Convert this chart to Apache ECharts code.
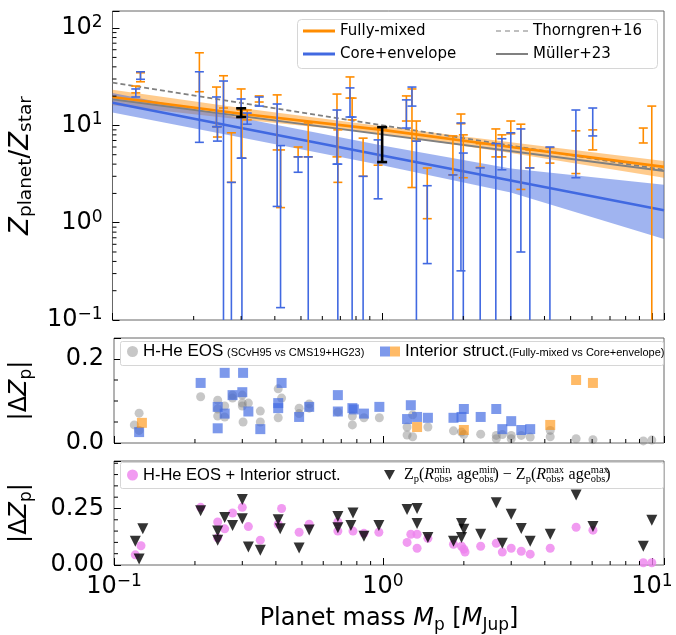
<!DOCTYPE html>
<html>
<head>
<meta charset="utf-8">
<script src="https://cdn.jsdelivr.net/npm/echarts@6/dist/echarts.min.js"></script>
<style>
  html, body { margin: 0; padding: 0; background: #fff; }
  #chart { width: 676px; height: 635px; }
</style>
</head>
<body>
<div id="chart"></div>
<script>
// ---- data ----
const xMin = 0.1, xMax = 11.1

// top panel: Z_planet / Z_star ranges per planet
const planetMass = [0.122, 0.127, 0.21, 0.243, 0.245, 0.258, 0.276, 0.30, 0.302, 0.316, 0.35, 0.408, 0.42, 0.488, 0.532, 0.68, 0.685, 0.76, 0.774, 0.85, 0.966, 1.23, 1.29, 1.34, 1.47, 1.83, 1.96, 2.0, 2.31, 2.64, 2.78, 3.0, 3.27, 3.53, 4.19, 5.23, 6.04, 9.3, 10.0]
const mixedLo = [21.6, 28.1, 22.2, 9.7, 7.6, 15.1, 2.6, 14.4, 4.6, 11.4, 17.4, 5.6, 1.43, 4.75, 4.75, 4.75, 2.6, 19.1, 11.4, 3.0, 3.9, 11.1, 2.3, 6.9, 1.10, 3.1, 10.4, 2.9, 3.7, 4.75, 4.75, 8.2, 2.2, 3.66, 4.1, 3.2, 5.6, 6.6, 0.01]
const mixedHi = [25.4, 34.8, 55.8, 24.8, 9.7, 32.4, 8.4, 23.7, 14.4, 14.4, 20.1, 20.6, 5.6, 6.0, 10.6, 21.0, 9.0, 31.5, 19.1, 7.4, 9.4, 20.1, 23.7, 11.1, 3.65, 7.8, 13.1, 8.0, 6.5, 9.2, 8.0, 11.1, 10.3, 5.6, 5.9, 8.8, 9.0, 9.4, 15.8]
const coreLo = [19.6, 29.8, 6.7, 9.7, 6.9, 0.01, 0.01, 4.6, 0.01, 10.3, 15.8, 1.47, 0.134, 3.3, 0.01, 4.0, 0.01, 12.2, 0.01, 0.01, 1.76, 9.4, 15.8, 0.01, 0.38, 0.01, 0.32, 0.01, 0.01, 0.01, 3.5, 0.01, 0.5, 0.01, 0.01, 2.9, 7.8, null, null]
const coreHi = [23.7, 35.6, 35.6, 19.6, 9.7, 28.6, 2.6, 18.7, 4.6, 13.4, 19.6, 16.6, 6.2, 4.75, 4.75, 14.4, 4.0, 24.3, 12.2, 3.0, 7.1, 18.3, 24.8, 6.9, 2.4, 3.1, 10.6, 5.2, 3.66, 6.5, 7.3, 8.4, 9.2, 3.66, 6.0, 14.4, 15.1, null, null]

// black points
const blackMass = [0.30, 1.0]
const blackLo = [12.2, 4.2]
const blackHi = [15.0, 9.6]

// fitted relations and their bands
const fitMass = [0.1, 0.3, 1, 3, 11.1]
const mixedFit = [19.6, 13.2, 9.0, 6.0, 3.75]
const mixedUp = [23.3, 15.1, 9.8, 6.7, 4.3]
const mixedDn = [16.1, 11.5, 8.2, 5.2, 2.9]
const coreFit = [17.1, 9.4, 4.9, 2.72, 1.34]
const coreUp = [21.5, 11.9, 6.2, 3.6, 2.45]
const coreDn = [13.6, 7.5, 3.9, 2.05, 0.68]
const relMass = [0.1, 11.1]
const thorngren = [27.5, 3.5]
const muller = [18.5, 3.4]

// middle panel: |dZp|
const eosMass = [0.119, 0.124, 0.124, 0.21, 0.243, 0.243, 0.243, 0.258, 0.258, 0.276, 0.276, 0.30, 0.30, 0.30, 0.316, 0.302, 0.35, 0.35, 0.408, 0.42, 0.408, 0.488, 0.488, 0.532, 0.532, 0.68, 0.77, 0.77, 0.85, 0.97, 1.23, 1.23, 1.29, 1.29, 1.47, 1.83, 1.96, 2.0, 2.31, 2.64, 2.64, 2.78, 3.0, 3.0, 3.27, 3.53, 4.19, 4.19, 5.23, 6.04, 9.3, 10.0]
const eosDz = [0.043, 0.071, 0.03, 0.11, 0.102, 0.081, 0.064, 0.062, 0.088, 0.114, 0.107, 0.114, 0.095, 0.088, 0.095, 0.05, 0.076, 0.05, 0.129, 0.107, 0.06, 0.083, 0.07, 0.093, 0.083, 0.074, 0.064, 0.043, 0.06, 0.06, 0.038, 0.019, 0.067, 0.015, 0.038, 0.029, 0.026, 0.02, 0.021, 0.018, 0.01, 0.02, 0.018, 0.01, 0.018, 0.014, 0.03, 0.015, 0.01, 0.008, 0.005, 0.007]
const ceMass = [0.124, 0.21, 0.258, 0.243, 0.258, 0.243, 0.276, 0.30, 0.302, 0.316, 0.35, 0.42, 0.408, 0.408, 0.488, 0.532, 0.68, 0.68, 0.77, 0.78, 0.85, 0.97, 1.27, 1.23, 1.34, 1.47, 1.83, 1.96, 2.0, 2.31, 2.64, 2.78, 3.0, 3.27, 3.53]
const ceDz = [0.026, 0.143, 0.167, 0.086, 0.07, 0.035, 0.114, 0.121, 0.167, 0.075, 0.033, 0.143, 0.095, 0.083, 0.062, 0.086, 0.114, 0.075, 0.083, 0.08, 0.07, 0.086, 0.09, 0.057, 0.062, 0.06, 0.06, 0.062, 0.081, 0.062, 0.081, 0.033, 0.052, 0.031, 0.033]
const fmMass = [0.127, 1.34, 2.0, 4.19, 5.23, 6.04]
const fmDz = [0.048, 0.038, 0.031, 0.043, 0.15, 0.143]

// bottom panel
const totMass = [0.12, 0.126, 0.21, 0.243, 0.243, 0.258, 0.276, 0.30, 0.316, 0.35, 0.408, 0.42, 0.488, 0.532, 0.68, 0.68, 0.774, 0.85, 0.966, 1.27, 1.34, 1.23, 1.34, 1.47, 1.83, 1.96, 2.0, 2.02, 2.31, 2.64, 2.78, 3.0, 3.27, 3.53, 4.19, 5.23, 6.04, 9.3, 10.0]
const totDz = [0.045, 0.085, 0.255, 0.19, 0.12, 0.16, 0.23, 0.255, 0.17, 0.11, 0.18, 0.25, 0.145, 0.18, 0.19, 0.15, 0.15, 0.14, 0.145, 0.136, 0.136, 0.1, 0.074, 0.118, 0.092, 0.083, 0.07, 0.057, 0.083, 0.096, 0.057, 0.074, 0.061, 0.048, 0.074, 0.167, 0.154, 0.01, 0.01]
const obsMass = [0.12, 0.124, 0.128, 0.21, 0.243, 0.243, 0.258, 0.276, 0.30, 0.30, 0.316, 0.35, 0.408, 0.415, 0.488, 0.532, 0.68, 0.68, 0.774, 0.76, 0.85, 0.966, 1.23, 1.34, 1.34, 1.47, 1.83, 1.96, 2.0, 1.96, 2.31, 2.64, 2.78, 3.0, 3.27, 3.53, 4.19, 5.23, 6.04, 9.3, 10.0]
const obsDz = [0.105, 0.026, 0.16, 0.24, 0.15, 0.11, 0.21, 0.175, 0.29, 0.205, 0.08, 0.065, 0.2, 0.16, 0.075, 0.155, 0.215, 0.165, 0.23, 0.175, 0.127, 0.175, 0.245, 0.25, 0.184, 0.122, 0.105, 0.184, 0.158, 0.122, 0.136, 0.275, 0.096, 0.224, 0.161, 0.105, 0.136, 0.31, 0.17, 0.083, 0.198]

// axis tick positions
const xMinor = [0.2, 0.3, 0.4, 0.5, 0.6, 0.7, 0.8, 0.9, 2, 3, 4, 5, 6, 7, 8, 9]
const topMinor = [0.2, 0.3, 0.4, 0.5, 0.6, 0.7, 0.8, 0.9, 2, 3, 4, 5, 6, 7, 8, 9, 20, 30, 40, 50, 60, 70, 80, 90]
const midMinor = [0.05, 0.1, 0.15]
const botMinor = [0.05, 0.1, 0.15, 0.2, 0.3, 0.35, 0.4, 0.45]

// ---- chart ----
const FONT = 'DejaVu Sans'
const SANS = 'Liberation Sans'
const SERIF = 'Liberation Serif'
const ORANGE = '#ff8c00'
const BLUE = '#4169e1'
const chart = echarts.init(document.getElementById('chart'))

const powRich = {
  b: { fontFamily: FONT, fontSize: 24, lineHeight: 28, color: '#000' },
  s: { fontFamily: FONT, fontSize: 17, lineHeight: 15, verticalAlign: 'top', color: '#000' },
}
function powLabel(v) {
  const p = Math.log10(v)
  const r = Math.round(p)
  if (Math.abs(p - r) > 1e-6) return ''
  return '{b|10}{s|' + (r < 0 ? '\u2212' + (-r) : r) + '}'
}

function xAxis(i, labels) {
  const ax = {
    type: 'log', logBase: 10, gridIndex: i, min: xMin, max: xMax,
    axisLine: { show: false }, splitLine: { show: false },
    axisTick: { show: true, inside: true, length: 7, lineStyle: { color: '#000' } },
    axisLabel: { show: labels, formatter: powLabel, rich: powRich, margin: 8 },
  }
  if (labels) {
    ax.name = '{t|Planet mass }{i|M}{s|p}{t| [}{i|M}{s|Jup}{t|]}'
    ax.nameLocation = 'middle'
    ax.nameGap = 39
    ax.nameTextStyle = {
      rich: {
        t: { fontFamily: FONT, fontSize: 24, lineHeight: 30, color: '#000' },
        i: { fontFamily: FONT, fontSize: 24, lineHeight: 30, fontStyle: 'italic', color: '#000' },
        s: { fontFamily: FONT, fontSize: 17, lineHeight: 14, verticalAlign: 'bottom', color: '#000' },
      },
    }
  }
  return ax
}

const dzName = {
  name: '{t|\u007C\u0394}{i|Z}{s|p}{t|\u007C}',
  nameLocation: 'middle', nameRotate: 90, nameGap: 79,
  nameTextStyle: {
    rich: {
      t: { fontFamily: FONT, fontSize: 24, lineHeight: 30, color: '#000' },
      i: { fontFamily: FONT, fontSize: 24, lineHeight: 30, fontStyle: 'italic', color: '#000' },
      s: { fontFamily: FONT, fontSize: 17, lineHeight: 14, verticalAlign: 'bottom', color: '#000' },
    },
  },
}

function tickSeries(i, values, dir, refVal) {
  return {
    type: 'custom', xAxisIndex: i, yAxisIndex: i, silent: true, z: 8,
    data: values.map(v => dir === 'x' ? [v, refVal] : [refVal, v]),
    renderItem(params, api) {
      const cs = params.coordSys
      const st = { stroke: '#000', lineWidth: 1 }
      if (dir === 'x') {
        const x = api.coord([api.value(0), api.value(1)])[0]
        const yb = cs.y + cs.height
        return { type: 'line', shape: { x1: x, y1: yb, x2: x, y2: yb - 4 }, style: st }
      }
      const y = api.coord([api.value(0), api.value(1)])[1]
      return { type: 'line', shape: { x1: cs.x, y1: y, x2: cs.x + 4, y2: y }, style: st }
    },
  }
}

function errorBars(lo, hi, mass, color, width, cap, z) {
  const data = []
  mass.forEach((m, k) => { if (lo[k] != null) data.push([m, lo[k], hi[k]]) })
  return {
    type: 'custom', xAxisIndex: 0, yAxisIndex: 0, clip: true, silent: true, z,
    encode: { x: 0, y: [1, 2] },
    data,
    renderItem(params, api) {
      const m = api.value(0)
      const a = api.coord([m, api.value(1)])
      const b = api.coord([m, api.value(2)])
      const st = { stroke: color, lineWidth: width }
      return {
        type: 'group',
        children: [
          { type: 'line', shape: { x1: a[0], y1: a[1], x2: b[0], y2: b[1] }, style: st },
          { type: 'line', shape: { x1: a[0] - cap, y1: a[1], x2: a[0] + cap, y2: a[1] }, style: st },
          { type: 'line', shape: { x1: b[0] - cap, y1: b[1], x2: b[0] + cap, y2: b[1] }, style: st },
        ],
      }
    },
  }
}

function band(up, dn, fill) {
  return {
    type: 'custom', xAxisIndex: 0, yAxisIndex: 0, clip: true, silent: true, z: 1,
    data: fitMass.map((m, k) => [m, dn[k], up[k]]),
    renderItem(params, api) {
      if (params.dataIndex !== 0) return
      const pts = fitMass.map((m, k) => api.coord([m, up[k]]))
      for (let k = fitMass.length - 1; k >= 0; k--) pts.push(api.coord([fitMass[k], dn[k]]))
      return { type: 'polygon', shape: { points: pts }, style: { fill } }
    },
  }
}

const pair = (xs, ys) => xs.map((x, k) => [x, ys[k]])

const legendBase = { padding: 0, selectedMode: false, z: 12 }
const mathRich = {
  m: { fontFamily: SERIF, fontSize: 16, lineHeight: 20, color: '#000' },
  mi: { fontFamily: SERIF, fontSize: 16, lineHeight: 20, fontStyle: 'italic', color: '#000' },
  sp: { fontFamily: SERIF, fontSize: 10.5, lineHeight: 9, verticalAlign: 'top', width: 0, color: '#000' },
  sb: { fontFamily: SERIF, fontSize: 10.5, lineHeight: 9, verticalAlign: 'bottom', color: '#000' },
}
const smallRich = {
  a: { fontFamily: SANS, fontSize: 17, lineHeight: 20, color: '#000' },
  b: { fontFamily: SANS, fontSize: 11, lineHeight: 17, padding: [3, 0, 0, 0], color: '#000' },
}

chart.setOption({
  backgroundColor: '#fff',
  animation: false,
  textStyle: { fontFamily: FONT },
  grid: [
    { left: 111, top: 11, width: 553, height: 309, show: true, borderColor: '#666', borderWidth: 1 },
    { left: 111, top: 338, width: 553, height: 105, show: true, borderColor: '#666', borderWidth: 1 },
    { left: 111, top: 461, width: 553, height: 105, show: true, borderColor: '#666', borderWidth: 1 },
  ],
  xAxis: [xAxis(0, false), xAxis(1, false), xAxis(2, true)],
  yAxis: [
    {
      type: 'log', logBase: 10, gridIndex: 0, min: 0.1, max: 150,
      axisLine: { show: false }, splitLine: { show: false },
      axisTick: { inside: true, length: 7, lineStyle: { color: '#000' } },
      axisLabel: { formatter: powLabel, rich: powRich, margin: 10 },
      name: '{i|Z}{s|planet}{t|/}{i|Z}{s|star}',
      nameLocation: 'middle', nameRotate: 90, nameGap: 71,
      nameTextStyle: {
        rich: {
          t: { fontFamily: FONT, fontSize: 26, lineHeight: 30, color: '#000' },
          i: { fontFamily: FONT, fontSize: 26, lineHeight: 30, fontStyle: 'italic', color: '#000' },
          s: { fontFamily: FONT, fontSize: 18.5, lineHeight: 14, verticalAlign: 'bottom', color: '#000' },
        },
      },
    },
    Object.assign({
      type: 'value', gridIndex: 1, min: 0, max: 0.25, interval: 0.2,
      axisLine: { show: false }, splitLine: { show: false },
      axisTick: { inside: true, length: 7, lineStyle: { color: '#000' } },
      axisLabel: {
        fontSize: 24, color: '#000', margin: 10,
        formatter: v => (Math.abs(v) < 1e-9 || Math.abs(v - 0.2) < 1e-9) ? v.toFixed(1) : '',
      },
    }, dzName),
    Object.assign({
      type: 'value', gridIndex: 2, min: 0, max: 0.46, interval: 0.25,
      axisLine: { show: false }, splitLine: { show: false },
      axisTick: { inside: true, length: 7, lineStyle: { color: '#000' } },
      axisLabel: {
        fontSize: 24, color: '#000', margin: 10,
        formatter: v => (Math.abs(v) < 1e-9 || Math.abs(v - 0.25) < 1e-9) ? v.toFixed(2) : '',
      },
    }, dzName),
  ],
  graphic: [
    { type: 'rect', left: 297, top: 19, z: 10, shape: { width: 360, height: 49, r: 4 }, style: { fill: 'rgba(255,255,255,0.85)', stroke: '#d6d6d6', lineWidth: 1 } },
    { type: 'rect', left: 120, top: 341, z: 10, shape: { width: 543, height: 24, r: 2 }, style: { fill: 'rgba(255,255,255,0.85)', stroke: '#d6d6d6', lineWidth: 1 } },
    { type: 'rect', left: 120, top: 462, z: 10, shape: { width: 543, height: 26, r: 2 }, style: { fill: 'rgba(255,255,255,0.85)', stroke: '#d6d6d6', lineWidth: 1 } },
  ],
  legend: [
    Object.assign({
      left: 303, top: 22, orient: 'vertical', itemWidth: 32, itemHeight: 3, itemGap: 5,
      icon: 'rect', data: ['Fully-mixed', 'Core+envelope'],
      textStyle: { fontFamily: FONT, fontSize: 15, lineHeight: 18, color: '#000' },
    }, legendBase),
    Object.assign({
      left: 496, top: 22, orient: 'vertical', itemWidth: 32, itemHeight: 2, itemGap: 5,
      data: [
        { name: 'Thorngren+16', icon: 'path://M0,0h5v1h-5zM9,0h5v1h-5zM18,0h5v1h-5zM27,0h5v1h-5z' },
        { name: 'M\u00fcller+23', icon: 'rect' },
      ],
      textStyle: { fontFamily: FONT, fontSize: 15, lineHeight: 18, color: '#000' },
    }, legendBase),
    Object.assign({
      left: 127, top: 343, itemWidth: 11, itemHeight: 11, icon: 'circle',
      data: ['eos'],
      formatter: () => '{a|H-He EOS} {b|(SCvH95 vs CMS19+HG23)}',
      textStyle: { rich: smallRich },
    }, legendBase),
    Object.assign({
      left: 380, top: 343, itemWidth: 10, itemHeight: 10, itemGap: 0, icon: 'rect',
      data: ['isCE', 'isFM'],
      formatter: n => n === 'isCE' ? '' : '{a|Interior struct.}{b|(Fully-mixed vs Core+envelope)}',
      textStyle: { rich: smallRich },
    }, legendBase),
    Object.assign({
      left: 127, top: 465, itemWidth: 11, itemHeight: 11, icon: 'circle',
      data: ['tot'],
      formatter: () => 'H-He EOS + Interior struct.',
      textStyle: { fontFamily: SANS, fontSize: 16.5, lineHeight: 20, color: '#000' },
    }, legendBase),
    Object.assign({
      left: 384, top: 465, itemWidth: 11, itemHeight: 10,
      data: [{ name: 'obs', icon: 'path://M0,0L10,0L5,9Z' }],
      formatter: () => '{m| Z}{sb|p}{m|(}{mi|R}{sp|min}{sb|obs}{m|, age}{sp|min}{sb|obs}{m|) \u2212 Z}{sb|p}{m|(}{mi|R}{sp|max}{sb|obs}{m|, age}{sp|max}{sb|obs}{m|)}',
      textStyle: { rich: mathRich },
    }, legendBase),
  ],
  series: [
    band(mixedUp, mixedDn, 'rgba(255,140,0,0.45)'),
    band(coreUp, coreDn, 'rgba(65,105,225,0.5)'),
    {
      name: 'Thorngren+16', type: 'line', xAxisIndex: 0, yAxisIndex: 0, z: 2, symbol: 'none', silent: true,
      color: '#808080', data: pair(relMass, thorngren), lineStyle: { color: '#808080', width: 1.8, type: [5, 3] },
    },
    {
      name: 'M\u00fcller+23', type: 'line', xAxisIndex: 0, yAxisIndex: 0, z: 2, symbol: 'none', silent: true,
      color: '#808080', data: pair(relMass, muller), lineStyle: { color: '#808080', width: 1.8 },
    },
    {
      name: 'Fully-mixed', type: 'line', xAxisIndex: 0, yAxisIndex: 0, z: 3, symbol: 'none', silent: true,
      color: ORANGE, data: pair(fitMass, mixedFit), lineStyle: { color: ORANGE, width: 2.6 },
    },
    {
      name: 'Core+envelope', type: 'line', xAxisIndex: 0, yAxisIndex: 0, z: 3, symbol: 'none', silent: true,
      color: BLUE, data: pair(fitMass, coreFit), lineStyle: { color: BLUE, width: 2.6 },
    },
    errorBars(mixedLo, mixedHi, planetMass, ORANGE, 1.6, 4.5, 4),
    errorBars(coreLo, coreHi, planetMass, BLUE, 1.6, 4.5, 5),
    errorBars(blackLo, blackHi, blackMass, '#000', 2.6, 5, 6),
    {
      name: 'eos', type: 'scatter', xAxisIndex: 1, yAxisIndex: 1, symbol: 'circle', symbolSize: 9, silent: true,
      itemStyle: { color: 'rgba(128,128,128,0.55)' }, data: pair(eosMass, eosDz),
    },
    {
      name: 'isCE', type: 'scatter', xAxisIndex: 1, yAxisIndex: 1, symbol: 'rect', symbolSize: 10, silent: true,
      itemStyle: { color: 'rgba(65,105,225,0.85)' }, data: pair(ceMass, ceDz),
    },
    {
      name: 'isFM', type: 'scatter', xAxisIndex: 1, yAxisIndex: 1, symbol: 'rect', symbolSize: 10, silent: true,
      itemStyle: { color: 'rgba(255,140,0,0.75)' }, data: pair(fmMass, fmDz),
    },
    {
      name: 'tot', type: 'scatter', xAxisIndex: 2, yAxisIndex: 2, symbol: 'circle', symbolSize: 9, silent: true,
      itemStyle: { color: '#ee82ee' }, data: pair(totMass, totDz),
    },
    {
      name: 'obs', type: 'scatter', xAxisIndex: 2, yAxisIndex: 2, symbol: 'triangle', symbolRotate: 180, symbolSize: 11, silent: true,
      itemStyle: { color: '#000' }, data: pair(obsMass, obsDz),
    },
    tickSeries(0, xMinor, 'x', 1),
    tickSeries(1, xMinor, 'x', 0.1),
    tickSeries(2, xMinor, 'x', 0.1),
    tickSeries(0, topMinor, 'y', 1),
    tickSeries(1, midMinor, 'y', 1),
    tickSeries(2, botMinor, 'y', 1),
  ],
})
</script>
</body>
</html>
